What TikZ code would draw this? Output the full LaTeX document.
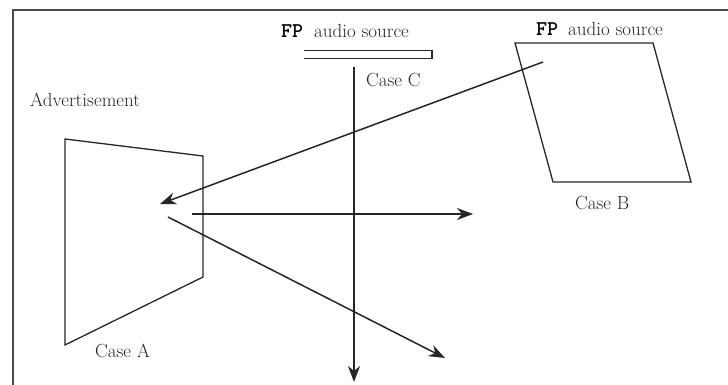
\documentclass[tikz,border=0pt]{standalone}
\usepackage{fontspec}
\usetikzlibrary{arrows.meta}
\tikzset{
  shape line/.style={line width=1.3pt, draw=black!85, line join=miter},
  arr/.style={line width=1.5pt, draw=black!85, -{Stealth[length=16pt,width=12pt,inset=5pt]}},
  lbl/.style={font=\fontsize{19}{21}\selectfont, text=black!85, inner sep=0pt},
  fp/.style={font=\ttfamily\bfseries\fontsize{21}{22}\selectfont, inner sep=0pt},
  frame/.style={line width=2pt, draw=black!70}
}
\begin{document}
\begin{tikzpicture}[x=1pt,y=-1pt]
\useasboundingbox (0,0) rectangle (728,385);
% frame
\draw[frame] (12.5,385) -- (12.5,10) -- (728,10);
% labels
\node[fp,anchor=west] (fp1) at (281,31) {FP};
\node[lbl,anchor=west] (as1) at (314,31) {audio source};
\node[fp,anchor=west] (fp2) at (536,29) {FP};
\node[lbl,anchor=west] (as2) at (568,29) {audio source};
\node[lbl,anchor=west] (adv) at (30,100) {Advertisement};
\node[lbl,anchor=west] (ca) at (95,351) {Case A};
\node[lbl,anchor=west] (cb) at (575,203) {Case B};
\node[lbl,anchor=west] (cc) at (366,80) {Case C};
% source C (thin double bar)
\draw[shape line] (304,50.5) -- (432,50.5) -- (432,58.5) -- (304,58.5);
% parallelogram B
\draw[shape line] (515,43) -- (653,43) -- (691,182) -- (553,182) -- cycle;
% trapezoid A
\draw[shape line] (65,139) -- (203,156) -- (203,277) -- (65,345) -- cycle;
% arrow endpoints
\coordinate (bsrc) at (543,62);
\coordinate (aimg) at (160,204);
\coordinate (hstart) at (192,214);
\coordinate (hend) at (473,214);
\coordinate (dstart) at (168,217);
\coordinate (dend) at (445,358);
\coordinate (vstart) at (354,67);
\coordinate (vend) at (354,382);
\draw[arr] (bsrc) -- (aimg);
\draw[arr] (hstart) -- (hend);
\draw[arr] (dstart) -- (dend);
\draw[arr] (vstart) -- (vend);
\end{tikzpicture}
\end{document}
